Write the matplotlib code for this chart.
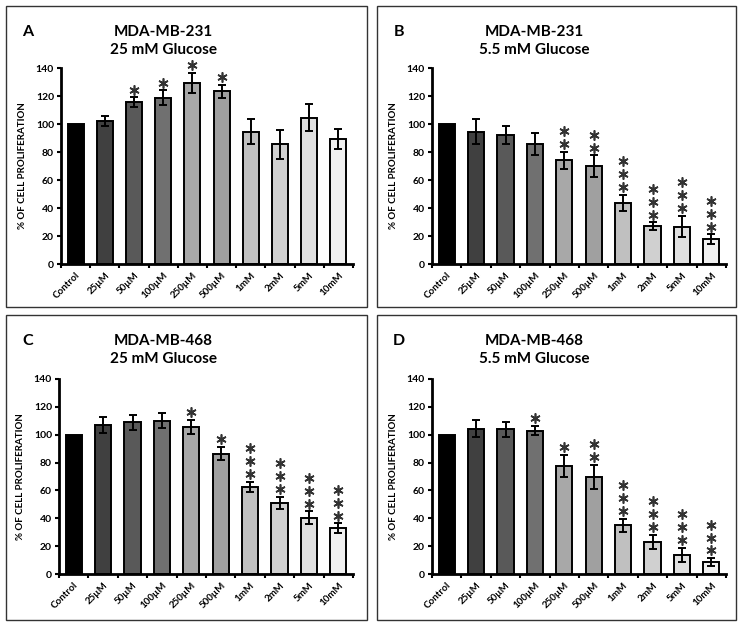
import numpy as np
import matplotlib.pyplot as plt
from matplotlib.patches import Rectangle

plt.rcParams['font.family'] = ['Lato', 'DejaVu Sans']

categories = ['Control', '25µM', '50µM', '100µM', '250µM', '500µM', '1mM', '2mM', '5mM', '10mM']
bar_colors = ['#000000', '#404040', '#595959', '#707070', '#a8a8a8',
              '#a0a0a0', '#c0c0c0', '#d0d0d0', '#e0e0e0', '#f0f0f0']

# panel A: MDA-MB-231, 25 mM glucose
valsA = [100, 102.2, 115.8, 118.8, 129.3, 123.4, 94.6, 85.6, 104.6, 89.1]
errA = [0, 3.3, 3.3, 5.3, 7.4, 4.7, 9.0, 10.3, 9.5, 7.1]
starsA = [0, 0, 1, 1, 1, 1, 0, 0, 0, 0]

# panel B: MDA-MB-231, 5.5 mM glucose
valsB = [100, 94.6, 92.2, 86.0, 74.2, 69.9, 43.7, 26.9, 26.6, 17.6]
errB = [0, 9.0, 6.7, 7.8, 6.0, 7.8, 5.8, 2.9, 7.6, 3.6]
starsB = [0, 0, 0, 0, 2, 2, 3, 3, 3, 3]

# panel C: MDA-MB-468, 25 mM glucose
valsC = [100, 107.0, 108.9, 110.1, 105.8, 86.5, 62.6, 51.1, 40.4, 33.0]
errC = [0, 5.6, 5.5, 5.6, 5.1, 4.7, 3.8, 4.5, 4.5, 3.5]
starsC = [0, 0, 0, 0, 1, 1, 3, 3, 3, 3]

# panel D: MDA-MB-468, 5.5 mM glucose
valsD = [100, 104.4, 103.9, 103.0, 77.6, 69.8, 34.9, 22.9, 13.6, 8.4]
errD = [0, 6.2, 5.4, 3.2, 7.9, 8.7, 4.8, 5.1, 5.3, 3.0]
starsD = [0, 0, 0, 1, 1, 2, 3, 3, 3, 3]

W, H = 746, 628
fig = plt.figure(figsize=(W / 100, H / 100), dpi=100)


def px(x0, y0, x1, y1):
    # pixel box -> figure fraction [left, bottom, width, height]
    return [x0 / W, 1 - y1 / H, (x1 - x0) / W, (y1 - y0) / H]


def panel(box, axbox, letter, line1, line2, vals, errs, stars):
    bx = px(*box)
    fig.add_artist(Rectangle((bx[0], bx[1]), bx[2], bx[3], transform=fig.transFigure,
                             fill=False, edgecolor='#333333', lw=1.0))
    ax = fig.add_axes(px(*axbox))
    x = np.arange(len(categories))
    ax.bar(x, vals, width=0.55, color=bar_colors, edgecolor='black', linewidth=1.4, zorder=2)
    ax.errorbar(x[1:], vals[1:], yerr=errs[1:], fmt='none', ecolor='black',
                elinewidth=1.4, capsize=3, capthick=1.4, zorder=3)
    for i in range(len(x)):
        for k in range(stars[i]):
            ax.plot(x[i], vals[i] + errs[i] + 5.5 + 9.3 * k, marker=(6, 2, 0), ms=7.3,
                    mew=1.2, color='#333333', zorder=4, clip_on=False)
    ax.set_xlim(-0.5, 9.5)
    ax.set_ylim(0, 140)
    ax.set_yticks(range(0, 141, 20))
    ax.set_yticklabels([str(v) for v in range(0, 141, 20)], fontsize=7.5, fontweight='bold')
    ax.set_xticks(x)
    ax.set_xticklabels(categories, rotation=45, ha='right', rotation_mode='anchor',
                       fontsize=7, fontweight='bold')
    ax.tick_params(axis='x', length=0, pad=5)
    ax.set_xticks(np.arange(-0.5, 10, 1), minor=True)
    ax.tick_params(axis='x', which='minor', length=3, width=1.5, direction='out')
    ax.tick_params(axis='y', length=3, width=1.5, direction='out', pad=2)
    for s in ['top', 'right']:
        ax.spines[s].set_visible(False)
    for s in ['left', 'bottom']:
        ax.spines[s].set_linewidth(2)
    ax.set_ylabel('% OF CELL PROLIFERATION', fontsize=7, fontweight='bold', labelpad=6)
    # panel letter and two-line title
    fig.text((box[0] + 22) / W, 1 - (box[1] + 26) / H, letter, fontsize=11.5,
             fontweight='bold', ha='center', va='center')
    fig.text((box[0] + 157) / W, 1 - (box[1] + 26) / H, line1, fontsize=11,
             fontweight='bold', ha='center', va='center')
    fig.text((box[0] + 157) / W, 1 - (box[1] + 44) / H, line2, fontsize=11,
             fontweight='bold', ha='center', va='center')
    return ax


panel((6, 6, 367, 307), (61, 68, 353, 264), 'A', 'MDA-MB-231', '25 mM Glucose',
      valsA, errA, starsA)
panel((377, 6, 736, 307), (432, 68, 726, 264), 'B', 'MDA-MB-231', '5.5 mM Glucose',
      valsB, errB, starsB)
panel((6, 315, 367, 620), (59, 379, 353, 574), 'C', 'MDA-MB-468', '25 mM Glucose',
      valsC, errC, starsC)
panel((377, 315, 736, 620), (432, 379, 726, 574), 'D', 'MDA-MB-468', '5.5 mM Glucose',
      valsD, errD, starsD)

fig.savefig('out.png', dpi=100)
